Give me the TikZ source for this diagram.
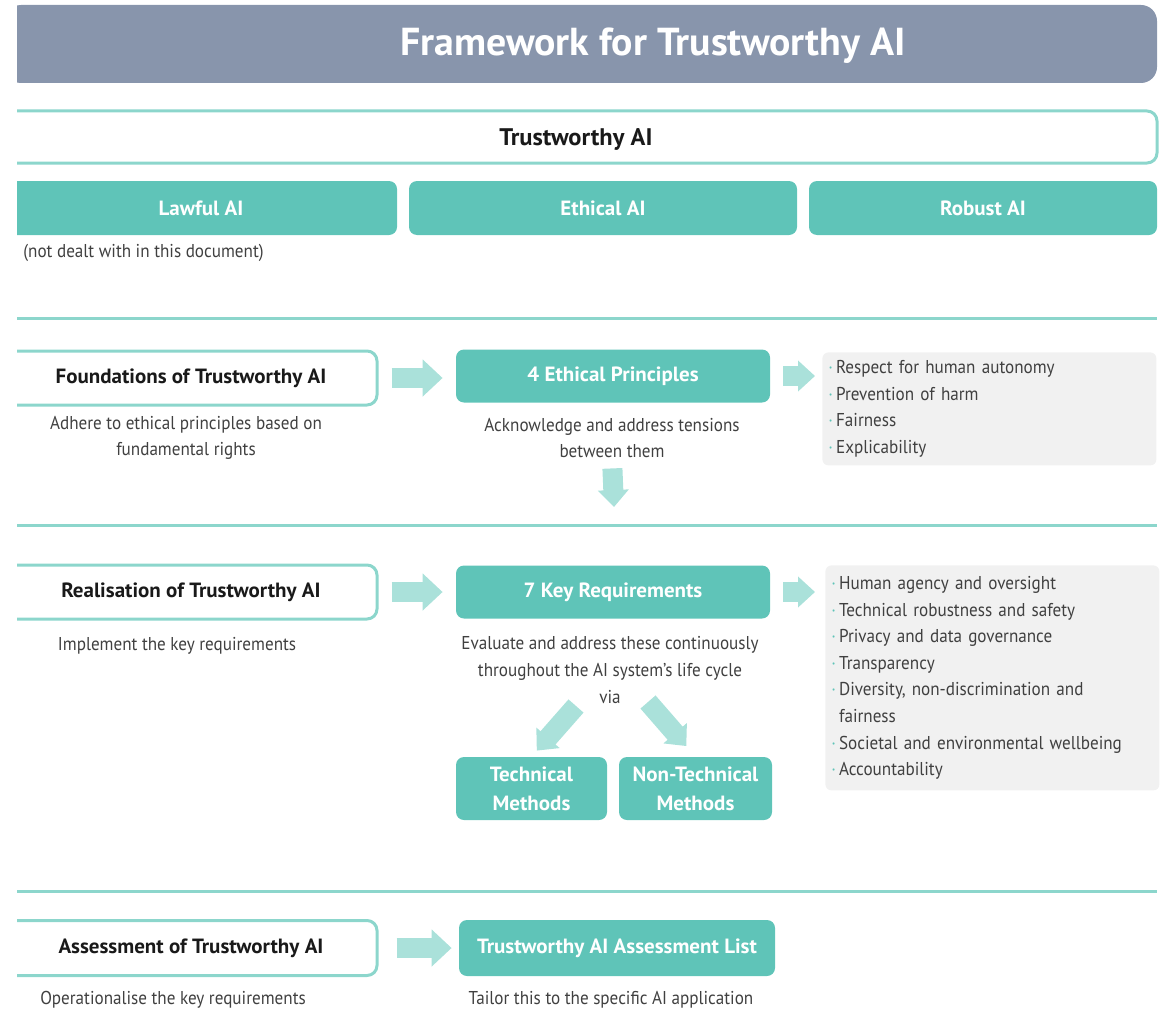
\documentclass[tikz,border=0pt]{standalone}
\usepackage{fontspec}
\setmainfont{PT Sans}[FakeStretch=0.92, BoldFeatures={FakeStretch=1.02}]
\usetikzlibrary{arrows.meta}

\definecolor{barblue}{RGB}{136,149,172}
\definecolor{tealfill}{RGB}{95,196,184}
\definecolor{tealline}{RGB}{140,214,204}
\definecolor{tealarrow}{RGB}{170,225,218}
\definecolor{listgray}{RGB}{241,241,241}
\definecolor{bodygray}{RGB}{64,64,64}

\newcommand{\itm}{\textcolor{tealfill}{·}\,}

\begin{document}
\begin{tikzpicture}[x=0.5pt, y=-0.5pt,
    every node/.style={inner sep=0pt},
    tealbox/.style={fill=tealfill, rounded corners=4pt, text=white, align=center,
        font=\bfseries\fontsize{10.3}{14.5}\selectfont},
    outbox/.style={draw=tealline, line width=1.5pt, rounded corners=5pt, text=black!90,
        font=\bfseries\fontsize{10.3}{13}\selectfont},
    bodytext/.style={text=bodygray, align=center, font=\fontsize{9.3}{13.3}\selectfont},
    listbox/.style={fill=listgray, rounded corners=3pt, anchor=north west, text=bodygray,
        align=left, text width=161pt, inner xsep=3pt, font=\fontsize{9.3}{13.3}\selectfont},
    bigarrow/.style={draw=tealarrow, line width=10pt, -{Triangle[length=10pt, width=18pt]}},
    smallarrow/.style={draw=tealarrow, line width=10pt, -{Triangle[length=8.5pt, width=15pt]}},
    sepline/.style={draw=tealline, line width=1.5pt}]

    \useasboundingbox (0,0) rectangle (1161,1011);
    \clip (17,0) rectangle (1161,1011);

    % header
    \node[fill=barblue, rounded corners=8pt, minimum width=576pt, minimum height=39pt] (bar) at (581,44) {};
    \node[text=white, font=\bfseries\fontsize{19.5}{21}\selectfont] (title) at (653,46) {Framework for Trustworthy AI};

    \node[outbox, minimum width=576pt, minimum height=26pt, font=\bfseries\fontsize{12}{14}\selectfont] (tai) at (581,137) {};
    \node[font=\bfseries\fontsize{12}{14}\selectfont, text=black!90] (taitxt) at (576,140) {Trustworthy AI};

    \node[tealbox, minimum width=196pt, minimum height=27pt] (lawful) at (201,208) {Lawful AI};
    \node[tealbox, minimum width=194pt, minimum height=27pt] (ethical) at (603,208) {Ethical AI};
    \node[tealbox, minimum width=174pt, minimum height=27pt] (robust) at (983,208) {Robust AI};
    \node[bodytext, anchor=west] (note) at (23,253) {(not dealt with in this document)};

    \foreach \y in {318, 525, 891}
        \draw[sepline] (5,\y) -- (1157,\y);

    % foundations
    \node[outbox, minimum width=186pt, minimum height=27pt] (found) at (191,378) {Foundations of Trustworthy AI};
    \node[bodytext] (foundtxt) at (186,438) {Adhere to ethical principles based on\\fundamental rights};
    \node[tealbox, minimum width=157pt, minimum height=26.5pt] (ethp) at (613,376) {4 Ethical Principles};
    \node[bodytext] (ethtxt) at (612,438) {Acknowledge and address tensions\\between them};
    \node[listbox, minimum height=56.5pt] (plist) at (822,352) {\itm Respect for human autonomy\\\itm Prevention of harm\\\itm Fairness\\\itm Explicability};
    \coordinate (ethnext) at (614,507);

    \draw[bigarrow, shorten <=6.5pt, shorten >=6.5pt] (found.east) -- (found.east -| ethp.west);
    \draw[smallarrow, shorten <=6.5pt, shorten >=3.5pt] (ethp.east) -- (ethp.east -| plist.west);
    \draw[smallarrow, shorten <=5pt] (ethtxt.south) -- (ethnext);

    % realisation
    \node[outbox, minimum width=186pt, minimum height=27pt] (real) at (191,592) {Realisation of Trustworthy AI};
    \node[bodytext] (realtxt) at (177,646) {Implement the key requirements};
    \node[tealbox, minimum width=157pt, minimum height=26.5pt] (keyreq) at (613,592) {7 Key Requirements};
    \node[bodytext] (keytxt) at (610,670) {Evaluate and address these continuously\\throughout the AI system's life cycle\\via};
    \node[listbox, minimum height=112.5pt] (rlist) at (825,565) {\itm Human agency and oversight\\\itm Technical robustness and safety\\\itm Privacy and data governance\\\itm Transparency\\\itm Diversity, non-discrimination and\\\hphantom{\itm}fairness\\\itm Societal and environmental wellbeing\\\itm Accountability};
    \node[tealbox, minimum width=75.5pt, minimum height=31.5pt] (tech) at (531.5,788.5) {Technical\\Methods};
    \node[tealbox, minimum width=76.5pt, minimum height=31.5pt] (nontech) at (695.5,788.5) {Non-Technical\\Methods};
    \coordinate (techtail) at (576,706);
    \coordinate (nontail) at (648,702);

    \draw[bigarrow, shorten <=6.5pt, shorten >=6.5pt] (real.east) -- (real.east -| keyreq.west);
    \draw[smallarrow, shorten <=6.5pt, shorten >=5pt] (keyreq.east) -- (keyreq.east -| rlist.west);
    \draw[smallarrow, shorten >=4pt] (techtail) -- (tech.north);
    \draw[smallarrow, shorten >=7pt] (nontail) -- (nontech.north);

    % assessment
    \node[outbox, minimum width=186pt, minimum height=27.5pt] (assess) at (191,948) {Assessment of Trustworthy AI};
    \node[bodytext] (assesstxt) at (173,1000) {Operationalise the key requirements};
    \node[tealbox, minimum width=158pt, minimum height=28pt] (list) at (617,948) {Trustworthy AI Assessment List};
    \node[bodytext] (listtxt) at (611,1000) {Tailor this to the specific AI application};

    \draw[bigarrow, shorten <=9pt, shorten >=3.5pt] (assess.east) -- (assess.east -| list.west);
\end{tikzpicture}
\end{document}
